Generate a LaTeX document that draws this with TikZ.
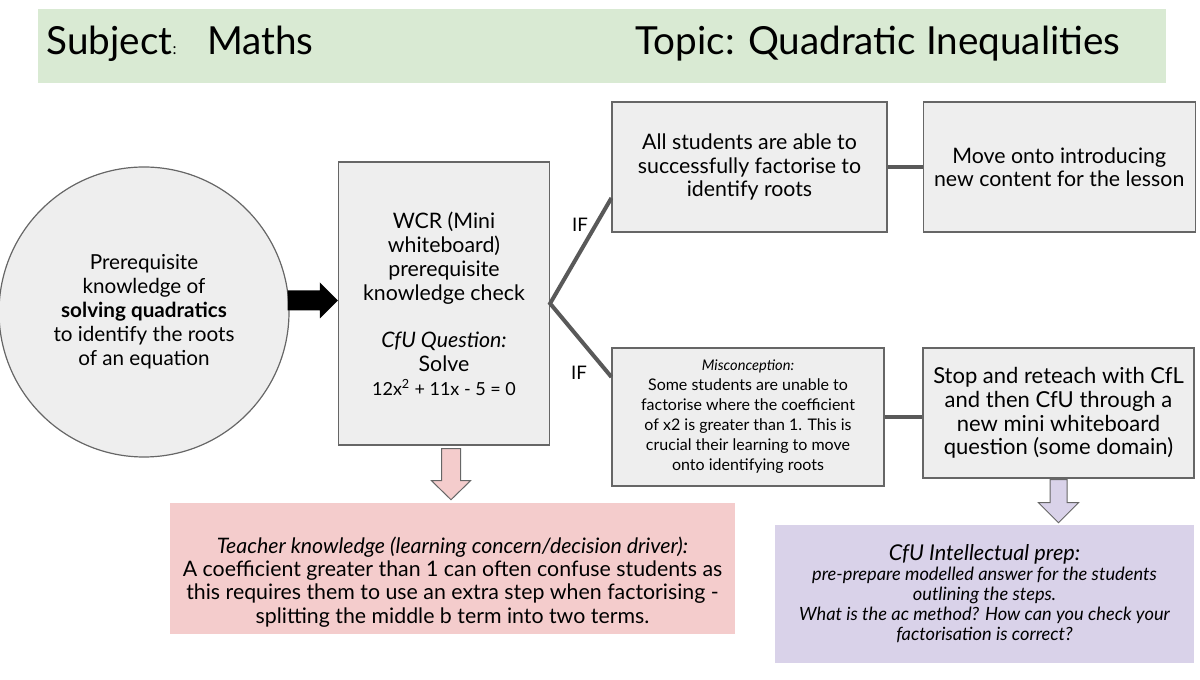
\documentclass[tikz,border=0pt]{standalone}
\usepackage{fontspec}
\setmainfont{Lato}
\usetikzlibrary{positioning,calc}

\definecolor{boxgray}{HTML}{EEEEEE}
\definecolor{edgegray}{HTML}{666666}
\definecolor{linkgray}{HTML}{595959}
\definecolor{headgreen}{HTML}{D9EAD3}
\definecolor{concernpink}{HTML}{F4CCCC}
\definecolor{preplilac}{HTML}{D9D2E9}

\tikzset{
  stage/.style={draw=edgegray, fill=boxgray, line width=0.9pt, align=center, inner sep=2pt},
  link/.style={draw=linkgray, line width=3pt},
  fatarrow/.style={draw=edgegray, line width=0.75pt, line join=miter},
}

\begin{document}
\begin{tikzpicture}[x=0.75pt, y=-0.75pt]
\useasboundingbox (0,0) rectangle (1200,680);

% header strip
\node[fill=headgreen, minimum width=846pt, minimum height=55.5pt, inner sep=0pt] (head) at (601.5,46) {};
\node[anchor=west, font=\fontsize{29}{33}\selectfont] (subject) at (42,44) {Subject{\fontsize{12}{14}\selectfont:}\hspace{23pt}Maths};
\node[anchor=west, font=\fontsize{29}{33}\selectfont] (topic) at (631,44) {Topic: Quadratic Inequalities};

% starting point and check
\node[circle, draw=edgegray, fill=boxgray, line width=0.9pt, minimum size=217.5pt, align=center,
      font=\fontsize{15.5}{18}\selectfont] (prereq) at (144,312)
  {Prerequisite\\knowledge of\\\textbf{solving quadratics}\\to identify the roots\\of an equation};
\node[stage, minimum width=158.25pt, minimum height=212.25pt, font=\fontsize{16}{18}\selectfont] (check) at (444,303.5)
  {WCR (Mini\\whiteboard)\\prerequisite\\knowledge check\\[17pt]\textit{CfU Question:}\\Solve\\{\fontsize{13.5}{18}\selectfont 12x\textsuperscript{2} + 11x - 5 = 0}};

% outcomes
\node[stage, minimum width=206.25pt, minimum height=97.5pt, font=\fontsize{16}{17.5}\selectfont] (allok) at (749.5,167)
  {All students are able to\\successfully factorise to\\identify roots};
\node[stage, minimum width=204pt, minimum height=97.5pt, font=\fontsize{16}{17.5}\selectfont, right=26.25pt of allok] (moveon)
  {Move onto introducing\\new content for the lesson};
\node[stage, minimum width=204pt, minimum height=103.5pt, font=\fontsize{12}{15}\selectfont] (miscon) at (748,417)
  {{\fontsize{11}{15}\selectfont\itshape Misconception:}\\Some students are unable to\\factorise where the coefficient\\of x2 is greater than 1. This is\\crucial their learning to move\\onto identifying roots};
\node[stage, minimum width=203.25pt, minimum height=97.5pt, font=\fontsize{16.5}{17.8}\selectfont] (reteach) at (1058.5,413)
  {Stop and reteach with CfL\\and then CfU through a\\new mini whiteboard\\question (some domain)};

% teacher notes
\node[fill=concernpink, minimum width=423.75pt, minimum height=98.25pt] (concern) at (452.5,568.5) {};
\node[align=center, font=\fontsize{16}{17.5}\selectfont] (concerntext) at (452.5,582)
  {\textit{Teacher knowledge (learning concern/decision driver):}\\A coefficient greater than 1 can often confuse students as\\this requires them to use an extra step when factorising -\\splitting the middle b term into two terms.};
\node[fill=preplilac, minimum width=314.25pt, minimum height=103.5pt, align=center,
      font=\fontsize{13.7}{15}\selectfont\itshape] (prep) at (984.5,594)
  {{\fontsize{16.3}{18}\selectfont CfU Intellectual prep:}\\pre-prepare modelled answer for the students\\outlining the steps.\\What is the ac method? How can you check your\\factorisation is correct?};

% block arrows
\coordinate (blacktip) at ($(check.west)+(0,-3)$);
\coordinate (blackstart) at (prereq.east |- blacktip);
\fill ($(blackstart)+(-2,-10)$) -- ($(blacktip)+(-18,-10)$) -- ($(blacktip)+(-18,-18)$) -- (blacktip)
  -- ($(blacktip)+(-18,18)$) -- ($(blacktip)+(-18,10)$) -- ($(blackstart)+(-2,10)$) -- cycle;

\coordinate (pinktop) at ($(check.south)+(7,3)$);
\coordinate (pinktip) at ($(pinktop |- concern.north)+(0,-3)$);
\draw[fatarrow, fill=concernpink] ($(pinktop)+(-9.5,0)$) -- ($(pinktop)+(9.5,0)$) -- ($(pinktip)+(9.5,-19)$)
  -- ($(pinktip)+(19.5,-19)$) -- (pinktip) -- ($(pinktip)+(-19.5,-19)$) -- ($(pinktip)+(-9.5,-19)$) -- cycle;

\coordinate (liltop) at ($(reteach.south)+(0,1)$);
\coordinate (liltip) at ($(liltop |- prep.north)+(0,-2)$);
\draw[fatarrow, fill=preplilac] ($(liltop)+(-8.5,0)$) -- ($(liltop)+(8.5,0)$) -- ($(liltip)+(8.5,-20)$)
  -- ($(liltip)+(20,-20)$) -- (liltip) -- ($(liltip)+(-20,-20)$) -- ($(liltip)+(-8.5,-20)$) -- cycle;

% branches
\draw[link, line join=miter] ([yshift=-23.25pt]allok.west) -- (check.east) -- ([yshift=30pt]miscon.west);
\draw[link] (allok) -- (moveon);
\draw[link] (miscon.east) -- (miscon.east -| reteach.west);
\node[font=\fontsize{14}{16}\selectfont] (ifyes) at (580,225) {IF};
\node[font=\fontsize{14}{16}\selectfont] (ifno) at (579,373) {IF};
\end{tikzpicture}
\end{document}
